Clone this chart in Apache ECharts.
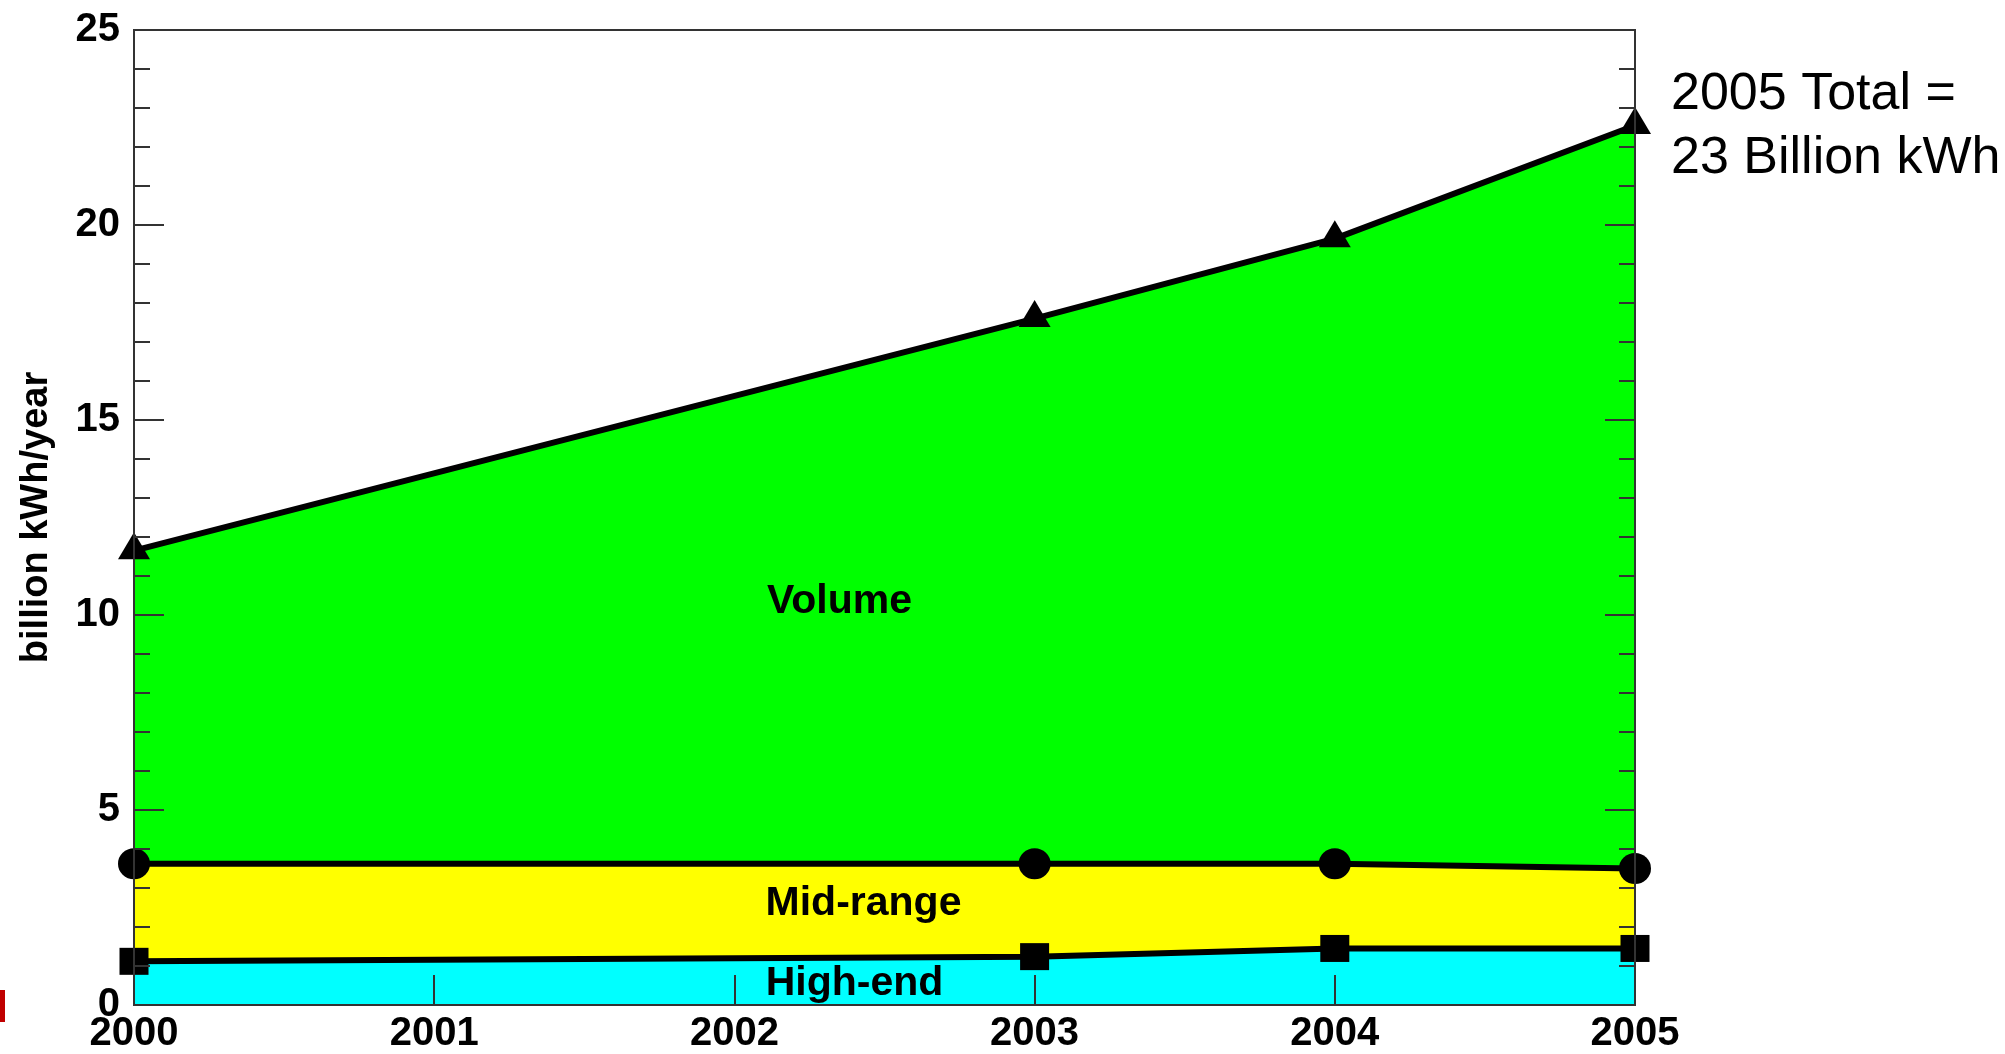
<!DOCTYPE html>
<html>
<head>
<meta charset="utf-8">
<script src="https://cdn.jsdelivr.net/npm/echarts@6/dist/echarts.min.js"></script>
<style>
html,body{margin:0;padding:0;background:#fff;}
#main{width:2005px;height:1054px;}
</style>
</head>
<body>
<div id="main"></div>
<script>
// ---- data ----
const years = [2000, 2003, 2004, 2005];
// cumulative top of each band, billion kWh/year
const volumeTotal = [11.65, 17.6, 19.65, 22.55];
const midRangeTop = [3.62, 3.62, 3.62, 3.5];
const highEnd = [1.12, 1.24, 1.45, 1.45];
const xTickYears = [2000, 2001, 2002, 2003, 2004, 2005];
const yTicks = [0, 5, 10, 15, 20, 25];
const bandNames = ['Volume', 'Mid-range', 'High-end'];
const annotationLines = ['2005 Total =', '23 Billion kWh'];

const FONT = '"Liberation Sans", Arial, sans-serif';
const pairs = arr => years.map((y, i) => [y, arr[i]]);

const chart = echarts.init(document.getElementById('main'));

const yAxisBase = {
  type: 'value', min: yTicks[0], max: yTicks[yTicks.length - 1], interval: 5, z: 10,
  axisLine: { show: true, lineStyle: { color: '#333', width: 2 } },
  axisTick: { show: true, inside: true, length: 30, lineStyle: { color: '#333', width: 2 } },
  minorTick: { show: true, splitNumber: 5, length: 16, lineStyle: { color: '#333', width: 2 } },
  splitLine: { show: false }
};

chart.setOption({
  animation: false,
  backgroundColor: '#fff',
  grid: { left: 134, right: 370, top: 30, bottom: 45, show: true, borderColor: '#333', borderWidth: 2 },
  xAxis: {
    type: 'value', min: xTickYears[0], max: xTickYears[xTickYears.length - 1], interval: 1, z: 10,
    axisLine: { show: true, lineStyle: { color: '#333', width: 2 } },
    axisTick: { show: true, inside: true, length: 30, lineStyle: { color: '#333', width: 2 } },
    splitLine: { show: false },
    axisLabel: { formatter: v => String(v), color: '#000', fontFamily: FONT, fontWeight: 'bold', fontSize: 40, margin: 9 }
  },
  yAxis: [
    Object.assign({}, yAxisBase, {
      position: 'left',
      name: 'billion kWh/year', nameLocation: 'middle', nameRotate: 90, nameGap: 78,
      nameTextStyle: { color: '#000', fontFamily: FONT, fontWeight: 'bold', fontSize: 38 },
      axisLabel: { color: '#000', fontFamily: FONT, fontWeight: 'bold', fontSize: 40, margin: 14 }
    }),
    Object.assign({}, yAxisBase, { position: 'right', axisLabel: { show: false } })
  ],
  series: [
    {
      name: bandNames[0], type: 'line', data: pairs(volumeTotal),
      lineStyle: { color: '#000', width: 6 },
      itemStyle: { color: '#000' },
      areaStyle: { color: '#00ff00', opacity: 1 },
      symbol: 'triangle', symbolSize: [32, 27], symbolOffset: [0, -5], showSymbol: true
    },
    {
      name: bandNames[1], type: 'line', data: pairs(midRangeTop),
      lineStyle: { color: '#000', width: 6 },
      itemStyle: { color: '#000' },
      areaStyle: { color: '#ffff00', opacity: 1 },
      symbol: 'circle', symbolSize: [32, 31], showSymbol: true
    },
    {
      name: bandNames[2], type: 'line', data: pairs(highEnd),
      lineStyle: { color: '#000', width: 6 },
      itemStyle: { color: '#000' },
      areaStyle: { color: '#00ffff', opacity: 1 },
      symbol: 'rect', symbolSize: [29, 27], showSymbol: true
    }
  ]
});

const labelAt = [[2002.35, 10.33], [2002.43, 2.6], [2002.40, 0.55]];
const graphics = bandNames.map((n, i) => {
  const p = chart.convertToPixel({ gridIndex: 0 }, labelAt[i]);
  return {
    type: 'text', x: p[0], y: p[1], z: 100,
    style: { text: n, fill: '#000', font: 'bold 41px ' + FONT, textAlign: 'center', textVerticalAlign: 'middle' }
  };
});
graphics.push({
  type: 'text', x: 1671, y: 63, z: 100,
  style: { text: annotationLines.join('\n'), fill: '#000', font: '52px ' + FONT, lineHeight: 64, textAlign: 'left', textVerticalAlign: 'top' }
});
graphics.push({ type: 'rect', shape: { x: 0, y: 990, width: 5, height: 32 }, style: { fill: '#c00000' }, z: 100 });
chart.setOption({ graphic: graphics });
</script>
</body>
</html>
